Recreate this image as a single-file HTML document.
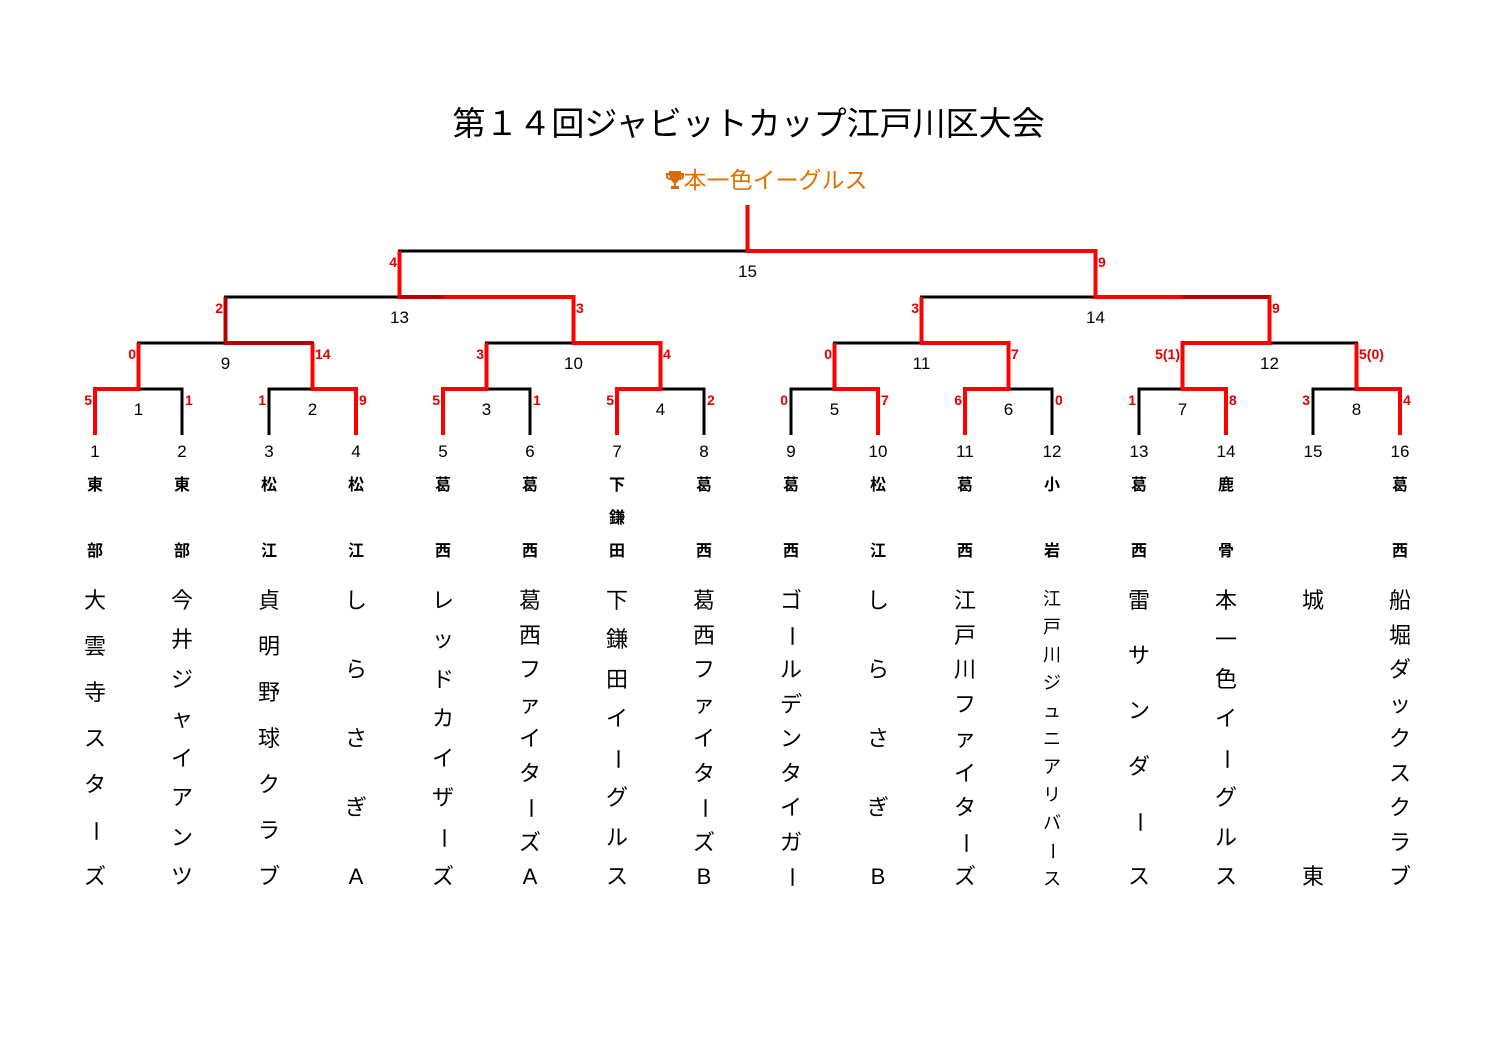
<!DOCTYPE html>
<html><head><meta charset="utf-8"><style>
body{margin:0;background:#fff;}
#c{position:relative;width:1497px;height:1058px;overflow:hidden;font-family:"Liberation Sans","Noto Sans CJK JP",sans-serif;}
.col{position:absolute;width:60px;display:flex;flex-direction:column;justify-content:space-between;align-items:center;color:#000;}
.pre{top:478px;height:82px;font-size:16px;line-height:16px;font-weight:bold;}
.nm{top:590px;height:298px;font-size:22px;line-height:22px;}
.nm.s{font-size:18px;line-height:18px;top:590px;height:298px;}
.v{display:inline-block;transform:rotate(90deg);}
</style></head><body><div id="c">
<div style="position:absolute;left:0;width:1497px;top:103px;text-align:center;font-size:33px;line-height:42px;">第１４回ジャビットカップ江戸川区大会</div>
<div style="position:absolute;left:18px;width:1497px;top:166px;text-align:center;font-size:23px;line-height:28px;color:#e07000;"><svg width="18" height="20" viewBox="0 0 18 20" style="vertical-align:-2px"><path d="M3 1H15V3H18V6Q18 10 13 10Q11 13 10 13V16H13V19H5V16H8V13Q7 13 5 10Q0 10 0 6V3H3Z M2 5V6Q2 8 4 8L3 5Z M16 5L15 8Q16 8 16 6Z" fill="#d86c00" fill-rule="evenodd"/></svg>本一色イーグルス</div>
<svg width="1497" height="1058" style="position:absolute;left:0;top:0" font-family="Liberation Sans, sans-serif">
<g fill="none" stroke="#000" stroke-width="3">
<path d="M95 435V389H182V435M269 435V389H356V435M443 435V389H530V435M617 435V389H704V435M791 435V389H878V435M965 435V389H1052V435M1139 435V389H1226V435M1313 435V389H1400V435"/>
<path d="M138.5 389V343H312.5V389M486.5 389V343H660.5V389M834.5 389V343H1008.5V389M1182.5 389V343H1356.5V389"/>
<path d="M225.5 343V297H573.5V343M921.5 343V297H1269.5V343"/>
<path d="M399.5 297V251H1095.5V297"/>
</g>
<g fill="none" stroke="#f00" stroke-width="4">
<path d="M95 435V389H138.5V343"/>
<path d="M356 435V389H312.5V343"/>
<path d="M443 435V389H486.5V343"/>
<path d="M617 435V389H660.5V343H573.5V297H399.5V251"/>
<path d="M878 435V389H834.5V343"/>
<path d="M965 435V389H1008.5V343H921.5V297"/>
<path d="M1226 435V389H1182.5V343H1269.5V297H1095.5V251H747.5V205"/>
<path d="M1400 435V389H1356.5V343"/>
</g>
<g fill="none" stroke="#b80000" stroke-width="4">
<path d="M312.5 343H225.5V297"/>
<path d="M399.5 297H444"/>
<path d="M1182 297H1269.5"/>
</g>
<g font-size="14" font-weight="bold" fill="#e00000">
<g text-anchor="end">
<text x="92" y="405">5</text><text x="266" y="405">1</text><text x="440" y="405">5</text><text x="614" y="405">5</text>
<text x="788" y="405">0</text><text x="962" y="405">6</text><text x="1136" y="405">1</text><text x="1310" y="405">3</text>
<text x="136" y="359">0</text><text x="484" y="359">3</text><text x="832" y="359">0</text><text x="1180" y="359">5(1)</text>
<text x="223" y="313">2</text><text x="919" y="313">3</text>
<text x="397" y="267">4</text>
</g>
<g text-anchor="start">
<text x="185" y="405">1</text><text x="359" y="405">9</text><text x="533" y="405">1</text><text x="707" y="405">2</text>
<text x="881" y="405">7</text><text x="1055" y="405">0</text><text x="1229" y="405">8</text><text x="1403" y="405">4</text>
<text x="315" y="359">14</text><text x="663" y="359">4</text><text x="1011" y="359">7</text><text x="1359" y="359">5(0)</text>
<text x="576" y="313">3</text><text x="1272" y="313">9</text>
<text x="1098" y="267">9</text>
</g>
</g>
<g font-size="17" fill="#000" text-anchor="middle">
<text x="138.5" y="415">1</text><text x="312.5" y="415">2</text><text x="486.5" y="415">3</text><text x="660.5" y="415">4</text>
<text x="834.5" y="415">5</text><text x="1008.5" y="415">6</text><text x="1182.5" y="415">7</text><text x="1356.5" y="415">8</text>
<text x="225.5" y="369">9</text><text x="573.5" y="369">10</text><text x="921.5" y="369">11</text><text x="1269.5" y="369">12</text>
<text x="399.5" y="323">13</text><text x="1095.5" y="323">14</text>
<text x="747.5" y="277">15</text>
<text x="95" y="457">1</text><text x="182" y="457">2</text><text x="269" y="457">3</text><text x="356" y="457">4</text>
<text x="443" y="457">5</text><text x="530" y="457">6</text><text x="617" y="457">7</text><text x="704" y="457">8</text>
<text x="791" y="457">9</text><text x="878" y="457">10</text><text x="965" y="457">11</text><text x="1052" y="457">12</text>
<text x="1139" y="457">13</text><text x="1226" y="457">14</text><text x="1313" y="457">15</text><text x="1400" y="457">16</text>
</g>
</svg>
<div class="col pre" style="left:65px"><span>東</span><span>部</span></div>
<div class="col pre" style="left:152px"><span>東</span><span>部</span></div>
<div class="col pre" style="left:239px"><span>松</span><span>江</span></div>
<div class="col pre" style="left:326px"><span>松</span><span>江</span></div>
<div class="col pre" style="left:413px"><span>葛</span><span>西</span></div>
<div class="col pre" style="left:500px"><span>葛</span><span>西</span></div>
<div class="col pre" style="left:587px"><span>下</span><span>鎌</span><span>田</span></div>
<div class="col pre" style="left:674px"><span>葛</span><span>西</span></div>
<div class="col pre" style="left:761px"><span>葛</span><span>西</span></div>
<div class="col pre" style="left:848px"><span>松</span><span>江</span></div>
<div class="col pre" style="left:935px"><span>葛</span><span>西</span></div>
<div class="col pre" style="left:1022px"><span>小</span><span>岩</span></div>
<div class="col pre" style="left:1109px"><span>葛</span><span>西</span></div>
<div class="col pre" style="left:1196px"><span>鹿</span><span>骨</span></div>
<div class="col pre" style="left:1370px"><span>葛</span><span>西</span></div>

<div class="col nm" style="left:65px"><span>大</span><span>雲</span><span>寺</span><span>ス</span><span>タ</span><span class="v">ー</span><span>ズ</span></div>
<div class="col nm" style="left:152px"><span>今</span><span>井</span><span>ジ</span><span>ャ</span><span>イ</span><span>ア</span><span>ン</span><span>ツ</span></div>
<div class="col nm" style="left:239px"><span>貞</span><span>明</span><span>野</span><span>球</span><span>ク</span><span>ラ</span><span>ブ</span></div>
<div class="col nm" style="left:326px"><span>し</span><span>ら</span><span>さ</span><span>ぎ</span><span>A</span></div>
<div class="col nm" style="left:413px"><span>レ</span><span>ッ</span><span>ド</span><span>カ</span><span>イ</span><span>ザ</span><span class="v">ー</span><span>ズ</span></div>
<div class="col nm" style="left:500px"><span>葛</span><span>西</span><span>フ</span><span>ァ</span><span>イ</span><span>タ</span><span class="v">ー</span><span>ズ</span><span>A</span></div>
<div class="col nm" style="left:587px"><span>下</span><span>鎌</span><span>田</span><span>イ</span><span class="v">ー</span><span>グ</span><span>ル</span><span>ス</span></div>
<div class="col nm" style="left:674px"><span>葛</span><span>西</span><span>フ</span><span>ァ</span><span>イ</span><span>タ</span><span class="v">ー</span><span>ズ</span><span>B</span></div>
<div class="col nm" style="left:761px"><span>ゴ</span><span class="v">ー</span><span>ル</span><span>デ</span><span>ン</span><span>タ</span><span>イ</span><span>ガ</span><span class="v">ー</span></div>
<div class="col nm" style="left:848px"><span>し</span><span>ら</span><span>さ</span><span>ぎ</span><span>B</span></div>
<div class="col nm" style="left:935px"><span>江</span><span>戸</span><span>川</span><span>フ</span><span>ァ</span><span>イ</span><span>タ</span><span class="v">ー</span><span>ズ</span></div>
<div class="col nm s" style="left:1022px"><span>江</span><span>戸</span><span>川</span><span>ジ</span><span>ュ</span><span>ニ</span><span>ア</span><span>リ</span><span>バ</span><span class="v">ー</span><span>ス</span></div>
<div class="col nm" style="left:1109px"><span>雷</span><span>サ</span><span>ン</span><span>ダ</span><span class="v">ー</span><span>ス</span></div>
<div class="col nm" style="left:1196px"><span>本</span><span>一</span><span>色</span><span>イ</span><span class="v">ー</span><span>グ</span><span>ル</span><span>ス</span></div>
<div class="col nm" style="left:1283px"><span>城</span><span>東</span></div>
<div class="col nm" style="left:1370px"><span>船</span><span>堀</span><span>ダ</span><span>ッ</span><span>ク</span><span>ス</span><span>ク</span><span>ラ</span><span>ブ</span></div>
</div></body></html>
